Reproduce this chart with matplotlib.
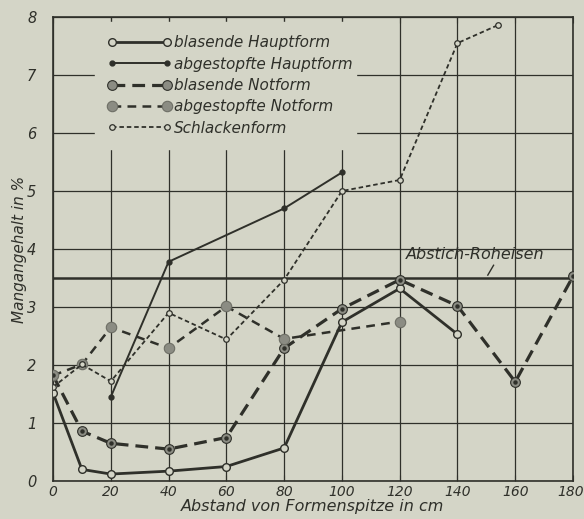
import matplotlib
matplotlib.use("Agg")
import matplotlib.pyplot as plt
from matplotlib.transforms import ScaledTranslation

# Distance from tuyere tip (cm) and manganese content (%)
x_blas_haupt = [0, 10, 20, 40, 60, 80, 100, 120, 140]
y_blas_haupt = [1.52, 0.20, 0.12, 0.17, 0.25, 0.57, 2.74, 3.32, 2.53]

x_abg_haupt = [20, 40, 80, 100]
y_abg_haupt = [1.45, 3.78, 4.70, 5.32]

x_blas_not = [0, 10, 20, 40, 60, 80, 100, 120, 140, 160, 180]
y_blas_not = [1.82, 0.86, 0.65, 0.55, 0.75, 2.29, 2.97, 3.47, 3.02, 1.71, 3.53]

x_abg_not = [0, 10, 20, 40, 60, 80, 120]
y_abg_not = [1.82, 2.01, 2.65, 2.29, 3.01, 2.45, 2.75]

x_schlacke = [0, 10, 20, 40, 60, 80, 100, 120, 140, 154]
y_schlacke = [1.62, 2.01, 1.72, 2.90, 2.44, 3.47, 5.00, 5.19, 7.55, 7.86]

roheisen_level = 3.5
roheisen_label = "Abstich-Roheisen"

series_labels = ["blasende Hauptform", "abgestopfte Hauptform",
                 "blasende Notform", "abgestopfte Notform", "Schlackenform"]

x_ticks = [0, 20, 40, 60, 80, 100, 120, 140, 160, 180]
y_ticks = [0, 1, 2, 3, 4, 5, 6, 7, 8]

paper = "#d4d5c7"
ink = "#2f302a"
gray = "#8b8c83"

fig = plt.figure(figsize=(5.84, 5.19), dpi=100, facecolor=paper)
ax = fig.add_axes([0.0908, 0.0732, 0.8904, 0.8940], facecolor=paper)

ax.set_xlim(0, 180)
ax.set_ylim(0, 8)
ax.set_xticks(x_ticks)
ax.set_yticks(y_ticks)
ax.grid(True, color=ink, linewidth=0.9, zorder=0)
for s in ax.spines.values():
    s.set_color(ink)
    s.set_linewidth(1.2)

font = dict(family="DejaVu Sans", style="italic", color=ink)
ax.set_xticklabels([str(v) for v in x_ticks], fontsize=10, **font)
ax.set_yticklabels([str(v) for v in y_ticks], fontsize=10.5, **font)
ax.tick_params(axis="x", length=0, pad=3)
ax.tick_params(axis="y", length=0, pad=12)
ax.tick_params(axis="x", top=True, direction="in", length=4, color=ink)
# nudge the last x label so it stays inside the figure
last = ax.get_xticklabels()[-1]
last.set_transform(last.get_transform() +
                   ScaledTranslation(-2 / 100, 0, fig.dpi_scale_trans))

# reference level of the tapped pig iron
ax.axhline(roheisen_level, color=ink, linewidth=1.8, zorder=2)
ax.text(122, roheisen_level + 0.4, roheisen_label, fontsize=11.5, ha="left",
        va="center", zorder=3, **font)
ax.plot([150.5, 152.5], [roheisen_level + 0.05, roheisen_level + 0.22],
        color=ink, linewidth=1.0, zorder=3)

ax.plot(x_blas_haupt, y_blas_haupt, color=ink, linewidth=2.0, marker="o",
        markersize=5.5, markerfacecolor=paper, markeredgecolor=ink,
        markeredgewidth=1.0, label=series_labels[0], zorder=4)
ax.plot(x_abg_haupt, y_abg_haupt, color=ink, linewidth=1.4, marker="o",
        markersize=3.5, markerfacecolor=ink, markeredgecolor=ink,
        label=series_labels[1], zorder=4)
ax.plot(x_blas_not, y_blas_not, color=ink, linewidth=2.3, dashes=(4, 2.2),
        marker="o", markersize=7, markerfacecolor=gray, markeredgecolor=ink,
        markeredgewidth=0.8, label=series_labels[2], zorder=4)
ax.plot(x_blas_not, y_blas_not, linestyle="none", marker="o", markersize=2.2,
        color=ink, zorder=5)
ax.plot(x_abg_not, y_abg_not, color=ink, linewidth=1.8, dashes=(3.5, 2.5),
        marker="o", markersize=7.5, markerfacecolor=gray, markeredgecolor="#6e6f66",
        markeredgewidth=0.8, label=series_labels[3], zorder=4)
ax.plot(x_schlacke, y_schlacke, color=ink, linewidth=1.3, dashes=(2.5, 1.6),
        marker="o", markersize=4, markerfacecolor=paper, markeredgecolor=ink,
        markeredgewidth=0.9, label=series_labels[4], zorder=4)

leg = ax.legend(loc="upper left", bbox_to_anchor=(0.08, 0.714, 0.503, 0.275),
                mode="expand", borderaxespad=0, numpoints=2, handlelength=4.2,
                handletextpad=0.12, labelspacing=0.42, borderpad=0.85,
                fancybox=False, framealpha=1, facecolor=paper,
                edgecolor=paper, prop=dict(family="DejaVu Sans", style="italic",
                                            size=11))
for t in leg.get_texts():
    t.set_color(ink)
leg.set_zorder(6)

ax.set_xlabel("Abstand von Formenspitze in cm", fontsize=11.5, labelpad=0, **font)
ax.set_ylabel("Mangangehalt in %", fontsize=11, labelpad=0, **font)

fig.savefig("out.png", dpi=100, facecolor=paper)
